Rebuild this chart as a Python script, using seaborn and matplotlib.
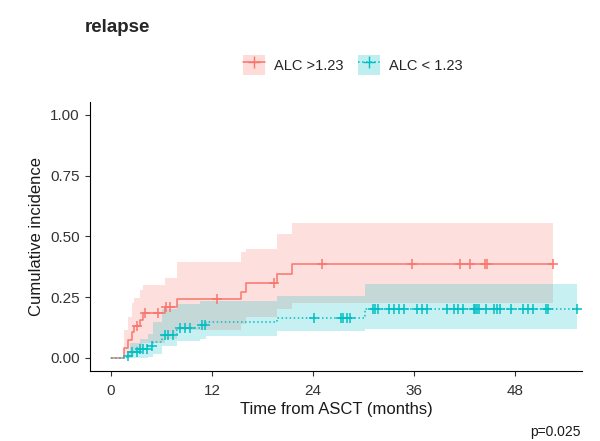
import numpy as np
import pandas as pd
import matplotlib
matplotlib.use("Agg")
import matplotlib.pyplot as plt
import seaborn as sns
from matplotlib.patches import Patch
from matplotlib.lines import Line2D
from matplotlib.legend_handler import HandlerTuple

# ---- data ----
groups = ["ALC >1.23", "ALC < 1.23"]
colors = ["#F8766D", "#00BFC4"]

red_time  = [0, 1.5, 2.0, 2.5, 2.7, 3.5, 3.8, 6.4, 7.8, 15.4, 16.1, 19.7, 21.5, 52.5]
red_est   = [0, 0.04, 0.074, 0.107, 0.13, 0.155, 0.185, 0.21, 0.243, 0.27, 0.31, 0.345, 0.385, 0.385]
red_upper = [0, 0.115, 0.17, 0.226, 0.247, 0.28, 0.30, 0.33, 0.395, 0.435, 0.45, 0.51, 0.555, 0.555]
red_lower = [0, 0, 0, 0.01, 0.02, 0.04, 0.06, 0.08, 0.115, 0.14, 0.17, 0.20, 0.225, 0.225]
red_censor = [3.1, 4.0, 5.6, 6.5, 7.0, 12.6, 19.4, 25.1, 35.8, 41.5, 42.7, 44.5, 44.7, 52.5]

teal_time  = [0, 1.9, 2.3, 3.5, 4.4, 5.0, 6.1, 7.9, 10.6, 11.3, 19.7, 30.2, 55.4]
teal_est   = [0, 0.01, 0.025, 0.035, 0.05, 0.066, 0.095, 0.123, 0.135, 0.148, 0.165, 0.20, 0.20]
teal_upper = [0, 0.03, 0.06, 0.08, 0.10, 0.15, 0.20, 0.22, 0.235, 0.235, 0.255, 0.305, 0.305]
teal_lower = [0, 0, 0, 0, 0.005, 0.015, 0.05, 0.07, 0.08, 0.09, 0.11, 0.12, 0.12]
teal_censor = [2.0, 2.5, 3.1, 3.5, 3.8, 4.3, 4.9, 6.4, 6.8, 7.4, 8.2, 8.8, 9.4, 10.8, 11.2,
               24.1, 27.3, 27.6, 28.0, 28.4, 31.2, 31.4, 31.8, 33.1, 33.7, 34.2, 34.8,
               36.4, 37.0, 37.6, 40.0, 40.8, 41.3, 41.9, 43.1, 43.3, 43.5, 43.7, 44.6,
               45.5, 45.9, 46.3, 47.6, 49.0, 49.6, 50.2, 51.7, 52.0, 55.4]

x_ticks = [0, 12, 24, 36, 48]
y_ticks = [0.00, 0.25, 0.50, 0.75, 1.00]
y_tick_labels = ["0.00", "0.25", "0.50", "0.75", "1.00"]

# ---- build tables ----
curves = [
    (red_time, red_est, red_upper, red_lower, red_censor),
    (teal_time, teal_est, teal_upper, teal_lower, teal_censor),
]
line_rows, cens_rows = [], []
for g, (t, e, u, l, c) in zip(groups, curves):
    for ti, ei in zip(t, e):
        line_rows.append({"time": ti, "est": ei, "group": g})
    for ci in c:
        idx = np.searchsorted(t, ci, side="right") - 1
        cens_rows.append({"time": ci, "est": e[idx], "group": g})
lines_df = pd.DataFrame(line_rows)
cens_df = pd.DataFrame(cens_rows)

sns.set_theme(style="ticks")
plt.rcParams["font.family"] = ["Liberation Sans", "DejaVu Sans"]

fig = plt.figure(figsize=(6.0, 4.41), dpi=100)
ax = fig.add_axes([0.15, 0.159, 0.82, 0.61])

# CI ribbons
for col, (t, e, u, l, c) in zip(colors, curves):
    ax.fill_between(t, l, u, step="post", color=col, alpha=0.22, linewidth=0)

# step lines
styles = ["-", ":"]
for g, col, ls in zip(groups, colors, styles):
    sub = lines_df[lines_df["group"] == g]
    sns.lineplot(data=sub, x="time", y="est", ax=ax, color=col, estimator=None,
                 sort=False, drawstyle="steps-post", linestyle=ls, linewidth=1.1,
                 legend=False)

# censor marks
for g, col in zip(groups, colors):
    sub = cens_df[cens_df["group"] == g]
    sns.scatterplot(data=sub, x="time", y="est", ax=ax, color=col, marker="+",
                    s=60, linewidth=1.1, legend=False, zorder=5)

ax.set_xlim(-2.5, 56)
ax.set_ylim(-0.053, 1.053)
ax.set_xticks(x_ticks)
ax.set_yticks(y_ticks)
ax.set_yticklabels(y_tick_labels)
ax.tick_params(axis="both", labelsize=11, colors="#333333", length=3.5, width=0.8,
               labelcolor="#333333", pad=4)
ax.tick_params(axis="x", pad=6)
for s in ["top", "right"]:
    ax.spines[s].set_visible(False)
for s in ["left", "bottom"]:
    ax.spines[s].set_color("black")
    ax.spines[s].set_linewidth(0.8)
ax.set_xlabel("Time from ASCT (months)", fontsize=12, labelpad=3, color="#1a1a1a")
ax.set_ylabel("Cumulative incidence", fontsize=12, labelpad=4, color="#1a1a1a")

# legend
handles = []
for col, ls in zip(colors, styles):
    patch = Patch(facecolor=col, alpha=0.25, edgecolor="none")
    ln = Line2D([], [], color=col, linestyle=ls, marker="+", markersize=9, linewidth=1.1)
    handles.append((patch, ln))
fig.legend(handles, groups, handler_map={tuple: HandlerTuple(ndivide=1, pad=0)},
           loc="center", bbox_to_anchor=(0.588, 0.853), ncol=2, frameon=False,
           fontsize=10.5, handlelength=1.5, handleheight=1.7, columnspacing=1.0,
           handletextpad=0.6)

fig.text(0.142, 0.938, "relapse", fontsize=13.5, fontweight="bold", ha="left", va="center")
fig.text(0.967, 0.005, "p=0.025", fontsize=10, ha="right", va="bottom", color="#1a1a1a")

fig.savefig("out.png", dpi=100)
